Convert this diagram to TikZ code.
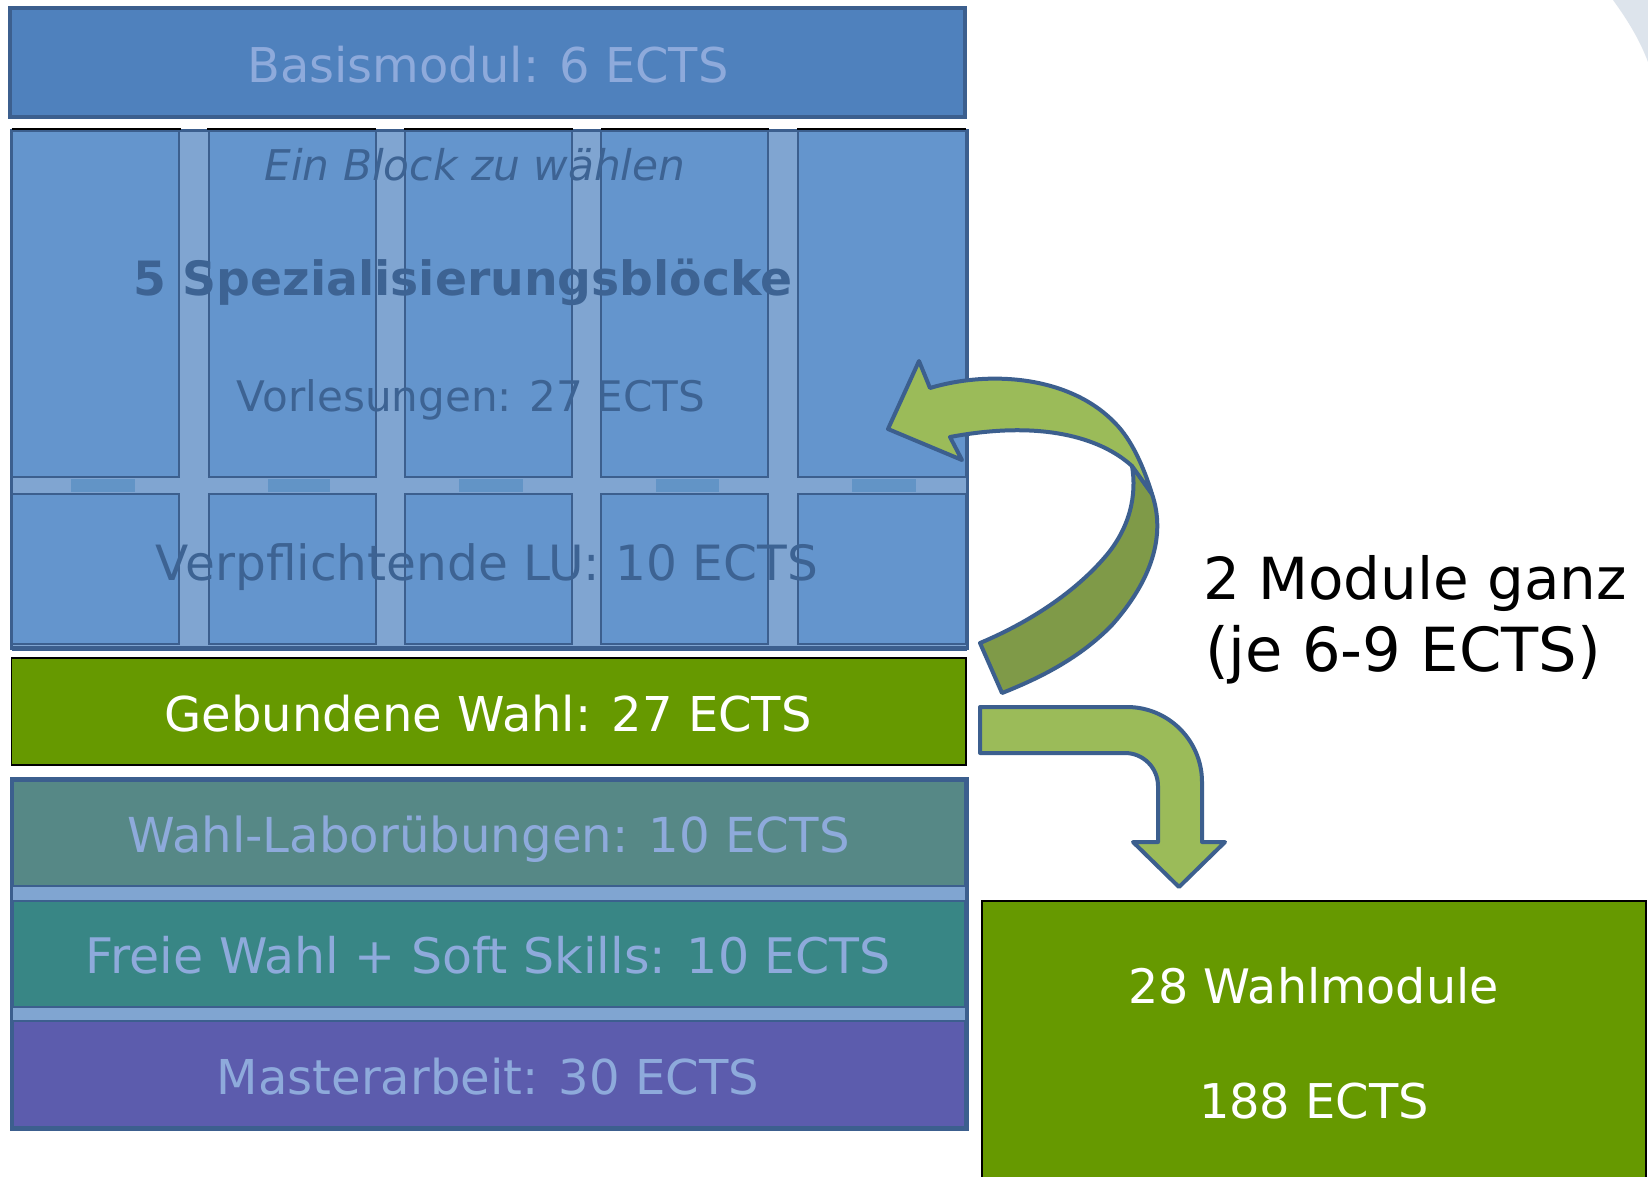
\documentclass[tikz,border=0pt]{standalone}
\usepackage{fontspec}
\setmainfont{DejaVu Sans}
\usepackage{graphicx}
\definecolor{bm}{HTML}{4F81BD}
\definecolor{bdr}{HTML}{3C5F8E}
\definecolor{ltxt}{HTML}{8EAADB}
\definecolor{colf}{HTML}{6495CD}
\definecolor{gapf}{HTML}{80A5D1}
\definecolor{patchf}{HTML}{6294C6}
\definecolor{dtxt}{HTML}{3D6393}
\definecolor{gw}{HTML}{669900}
\definecolor{labf}{HTML}{568886}
\definecolor{fwf}{HTML}{388685}
\definecolor{maf}{HTML}{5C5CAD}
\definecolor{arl}{HTML}{9BBB59}
\definecolor{ard}{HTML}{7F9A48}
\definecolor{cornerf}{HTML}{DDE4EC}
\newcommand{\fw}[2]{\resizebox{#1pt}{!}{#2}}
\newcommand{\rbx}[6]{\node[#6, inner sep=0pt, outer sep=0pt, minimum width={#4-#2}, minimum height={#5-#3}, anchor=north west] (#1) at (#2,#3) {};}
\tikzset{
  lbl/.style={inner sep=0pt, outer sep=0pt, anchor=base},
  colbox/.style={fill=colf, draw=bdr, line width=2pt},
  bandbox/.style={draw=bdr, line width=1.5pt},
  arrowline/.style={draw=bdr, line width=4pt, line join=round},
}
\begin{document}
\begin{tikzpicture}[x=1pt,y=-1pt]
\useasboundingbox (0,0) rectangle (1648,1176);
\clip (0,0) rectangle (1648,1176);
\fill[white] (0,0) rectangle (1648,1176);
% top-right corner decoration
\fill[cornerf] (1613,0) .. controls (1626,18) and (1639,38) .. (1648,62) -- (1648,0) -- cycle;

% Basismodul
\rbx{basis}{10}{8}{965}{117}{fill=bm, draw=bdr, line width=3.5pt}
\node[lbl, text=ltxt] (basistxt) at (488,82) {\fw{481}{Basismodul: 6 ECTS}};

% Specialisation blocks
\rbx{spec}{11.5}{130}{967}{648}{fill=gapf, draw=bdr, line width=3pt}
\draw[bdr, line width=5pt] (spec.south west) -- (spec.south east);
\rbx{u1}{12}{131}{179}{477}{colbox}
\rbx{u2}{209}{131}{376}{477}{colbox}
\rbx{u3}{405}{131}{572}{477}{colbox}
\rbx{u4}{601}{131}{768}{477}{colbox}
\rbx{u5}{798}{131}{966}{477}{colbox}
\rbx{l1}{12}{494}{179}{644}{colbox}
\rbx{l2}{209}{494}{376}{644}{colbox}
\rbx{l3}{405}{494}{572}{644}{colbox}
\rbx{l4}{601}{494}{768}{644}{colbox}
\rbx{l5}{798}{494}{966}{644}{colbox}
\rbx{p1}{71}{479}{135}{492}{fill=patchf}
\rbx{p2}{268}{479}{330}{492}{fill=patchf}
\rbx{p3}{459}{479}{523}{492}{fill=patchf}
\rbx{p4}{656}{479}{719}{492}{fill=patchf}
\rbx{p5}{852}{479}{916}{492}{fill=patchf}
\foreach \a/\b in {11.5/180.5, 207/376, 404/573, 601/768.5, 797/966}
  \draw[black, line width=2pt] (\a,128.5) -- (\b,128.5);
\node[lbl, text=dtxt, font=\itshape] (eintxt) at (475,180) {\fw{421}{Ein Block zu wählen}};
\node[lbl, text=dtxt, font=\bfseries] (spectxt) at (463,295) {\fw{659}{5 Spezialisierungsblöcke}};
\node[lbl, text=dtxt] (vltxt) at (471,411) {\fw{468}{Vorlesungen: 27 ECTS}};
\node[lbl, text=dtxt] (lutxt) at (487,580) {\fw{662}{Verpflichtende LU: 10 ECTS}};

% Gebundene Wahl
\rbx{gebw}{11.5}{658}{966}{765}{fill=gw, draw=black, line width=1.5pt}
\node[lbl, text=white] (gebtxt) at (488,731) {\fw{647}{Gebundene Wahl: 27 ECTS}};

% Lower stack
\rbx{lower}{11.5}{779}{967}{1129}{fill=gapf, draw=bdr, line width=3.5pt}
\rbx{lab}{13}{781}{965}{886}{fill=labf, bandbox}
\rbx{frei}{13}{901}{965}{1007}{fill=fwf, bandbox}
\rbx{mast}{13}{1021}{965}{1127}{fill=maf, bandbox}
\node[lbl, text=ltxt] (labtxt) at (488.5,852) {\fw{722}{Wahl-Laborübungen: 10 ECTS}};
\node[lbl, text=ltxt] (freitxt) at (488.5,973) {\fw{805}{Freie Wahl + Soft Skills: 10 ECTS}};
\node[lbl, text=ltxt] (masttxt) at (488,1094) {\fw{542}{Masterarbeit: 30 ECTS}};

% Wahlmodule box
\rbx{wahl}{982}{901}{1646}{1200}{fill=gw, draw=black, line width=2pt}
\node[lbl, text=white] (wahltxt1) at (1313.5,1003) {\fw{370}{28 Wahlmodule}};
\node[lbl, text=white] (wahltxt2) at (1314,1118) {\fw{230}{188 ECTS}};

% side text
\node[lbl, anchor=base west] (side1) at (1203,599) {\fw{424}{2 Module ganz}};
\node[lbl, anchor=base west] (side2) at (1205,671) {\fw{396}{(je 6-9 ECTS)}};

% curved arrow: back (dark) part
\path[fill=ard, arrowline] (1132,466) -- (1152,494)
  .. controls (1166,535) and (1152,580) .. (1112,625)
  .. controls (1080,658) and (1040,678) .. (1002,693)
  -- (980,643)
  .. controls (1030,622) and (1075,592) .. (1105,557)
  .. controls (1130,528) and (1137,495) .. (1132,466) -- cycle;
% curved arrow: front (light) part with head
\path[fill=arl, arrowline] (888,429) -- (919,361) -- (930,388)
  .. controls (990,370) and (1070,376) .. (1115,423)
  .. controls (1132,440) and (1144,468) .. (1152,494)
  -- (1132,466)
  .. controls (1100,437) and (1040,420) .. (950,437)
  -- (962,460) -- cycle;

% bent arrow
\path[fill=arl, arrowline] (980,707) -- (1127,707)
  .. controls (1168.4,707) and (1202,740.6) .. (1202,782)
  -- (1202,842) -- (1225,842) -- (1179,887) -- (1133,842) -- (1158,842)
  -- (1158,786)
  .. controls (1158,767.8) and (1143.2,753) .. (1125,753)
  -- (980,753) -- cycle;
\end{tikzpicture}
\end{document}
